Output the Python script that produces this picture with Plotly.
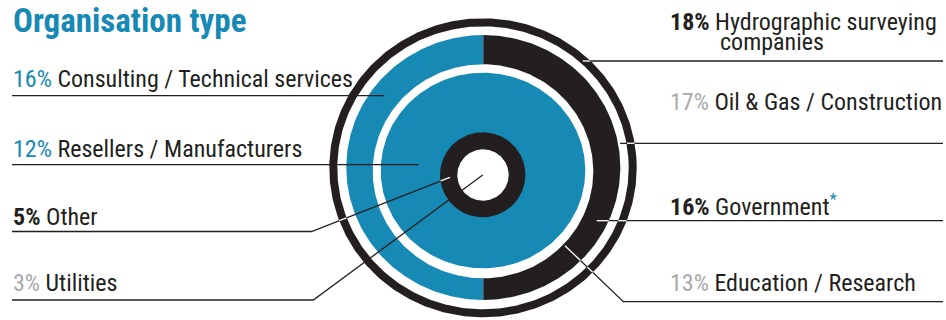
import numpy as np
import plotly.graph_objects as go

# ---------------- data ----------------
title = "Organisation type"
left_pct = [16, 12, 5, 3]
left_labels = ["Consulting / Technical services", "Resellers / Manufacturers", "Other", "Utilities"]
right_pct = [18, 17, 16, 13]
right_labels = ["Hydrographic surveying\ncompanies", "Oil & Gas / Construction", "Government", "Education / Research"]
right_notes = ["", "", "*", ""]

# ---------------- style ----------------
W, H = 946, 320
BLUE = "#1689b5"
INK = "#231f20"
GREY = "#a7a9ac"
FONT = "Roboto Condensed, Liberation Sans Narrow, DejaVu Sans Condensed, sans-serif"
LABEL_SIZE = 24
TITLE_SIZE = 33

left_pct_style = [(BLUE, False), (BLUE, False), (INK, True), (GREY, False)]
right_pct_style = [(INK, True), (GREY, False), (INK, True), (GREY, False)]

# text baselines (px from top) and x positions
left_x, right_x, cont_indent, line_gap = 12, 669, 50, 20.8
left_base = [87.3, 157.7, 225.0, 291.7]
right_base = [30.0, 110.0, 213.3, 291.7]

# decorative concentric rings: colour, cx, cy, rx, ry, half
rings = [
    (INK, 483.0, 167.8, 153.7, 149.5, None),
    ("white", 483.0, 167.8, 145.7, 141.5, None),
    (BLUE, 483.3, 167.5, 137.0, 132.5, "left"),
    (INK, 483.3, 167.5, 137.0, 132.5, "right"),
    ("white", 483.0, 171.3, 110.3, 107.0, None),
    (BLUE, 483.0, 170.5, 102.3, 97.8, None),
    (INK, 482.7, 174.8, 42.7, 42.5, None),
    ("white", 483.0, 175.0, 25.7, 25.7, None),
]

# leader lines (polylines) and whether they turn white over black areas
left_leaders = [
    ([(12, 95.7), (384.3, 95.7)], False),
    ([(12, 164.7), (418.3, 164.7)], False),
    ([(12, 231.5), (311.5, 231.5), (450, 177.3)], True),
    ([(12, 300.0), (313.3, 300.0), (482.7, 175.0)], False),
]
right_leaders = [
    ([(582.7, 61.0), (943, 61.0)], True),
    ([(620.0, 143.3), (943, 143.3)], True),
    ([(596.7, 220.7), (943, 220.7)], True),
    ([(565.0, 245.7), (623.3, 301.7), (943, 301.7)], True),
]

fig = go.Figure()


def ring_poly(cx, cy, rx, ry, half):
    if half == "left":
        t = np.linspace(np.pi / 2, 3 * np.pi / 2, 181)
    elif half == "right":
        t = np.linspace(-np.pi / 2, np.pi / 2, 181)
    else:
        t = np.linspace(0, 2 * np.pi, 361)
    x = cx + rx * np.cos(t)
    y = cy + ry * np.sin(t)
    return np.append(x, x[0]), np.append(y, y[0])


for col, cx, cy, rx, ry, half in rings:
    x, y = ring_poly(cx, cy, rx, ry, half)
    fig.add_trace(go.Scatter(x=x, y=y, mode="lines", fill="toself", fillcolor=col,
                             line=dict(width=0, color=col), hoverinfo="skip"))


def bg_colour(px, py):
    c = "white"
    for col, cx, cy, rx, ry, half in rings:
        if ((px - cx) / rx) ** 2 + ((py - cy) / ry) ** 2 <= 1:
            if half == "left" and px > cx:
                continue
            if half == "right" and px < cx:
                continue
            c = col
    return c


def draw_leader(pts, white_on_black):
    xs, ys = zip(*pts)
    fig.add_trace(go.Scatter(x=list(xs), y=list(ys), mode="lines",
                             line=dict(color=INK, width=1.3), hoverinfo="skip"))
    if not white_on_black:
        return
    wx, wy = [], []
    for (x0, y0), (x1, y1) in zip(pts[:-1], pts[1:]):
        n = int(np.hypot(x1 - x0, y1 - y0) * 2) + 2
        run = []
        for s in np.linspace(0, 1, n):
            px, py = x0 + (x1 - x0) * s, y0 + (y1 - y0) * s
            if bg_colour(px, py) == INK:
                run.append((px, py))
            elif run:
                wx += [run[0][0], run[-1][0], None]
                wy += [run[0][1], run[-1][1], None]
                run = []
        if run:
            wx += [run[0][0], run[-1][0], None]
            wy += [run[0][1], run[-1][1], None]
    if wx:
        fig.add_trace(go.Scatter(x=wx, y=wy, mode="lines",
                                 line=dict(color="white", width=1.3), hoverinfo="skip"))


for pts, wob in left_leaders + right_leaders:
    draw_leader(pts, wob)

annotations = []


def add_text(x, baseline, text, size=LABEL_SIZE, color=INK, weight="normal"):
    annotations.append(dict(x=x, y=baseline - 0.35 * size, xref="x", yref="y", text=text,
                            showarrow=False, xanchor="left", yanchor="middle",
                            font=dict(family=FONT, size=size, color=color, weight=weight),
                            borderpad=0))


def pct_html(p, style):
    col, bold = style
    s = f"{p}%"
    if bold:
        s = f"<b>{s}</b>"
    return f'<span style="color:{col}">{s}</span>'


add_text(left_x, 32.0, title, size=TITLE_SIZE, color=BLUE, weight="bold")

for p, lab, st, b in zip(left_pct, left_labels, left_pct_style, left_base):
    add_text(left_x, b, f"{pct_html(p, st)} {lab}")

for p, lab, st, b, note in zip(right_pct, right_labels, right_pct_style, right_base, right_notes):
    lines = lab.split("\n")
    first = f"{pct_html(p, st)} {lines[0]}"
    if note:
        first += f'<span style="color:{BLUE}"><sup>{note}</sup></span>'
    add_text(right_x, b, first)
    for i, extra in enumerate(lines[1:], start=1):
        add_text(right_x + cont_indent, b + i * line_gap, extra)

fig.update_layout(
    width=W, height=H, margin=dict(l=0, r=0, t=0, b=0),
    paper_bgcolor="white", plot_bgcolor="white", showlegend=False,
    xaxis=dict(range=[0, W], visible=False, fixedrange=True),
    yaxis=dict(range=[H, 0], visible=False, fixedrange=True),
    annotations=annotations,
)

fig.write_html("out.html")
